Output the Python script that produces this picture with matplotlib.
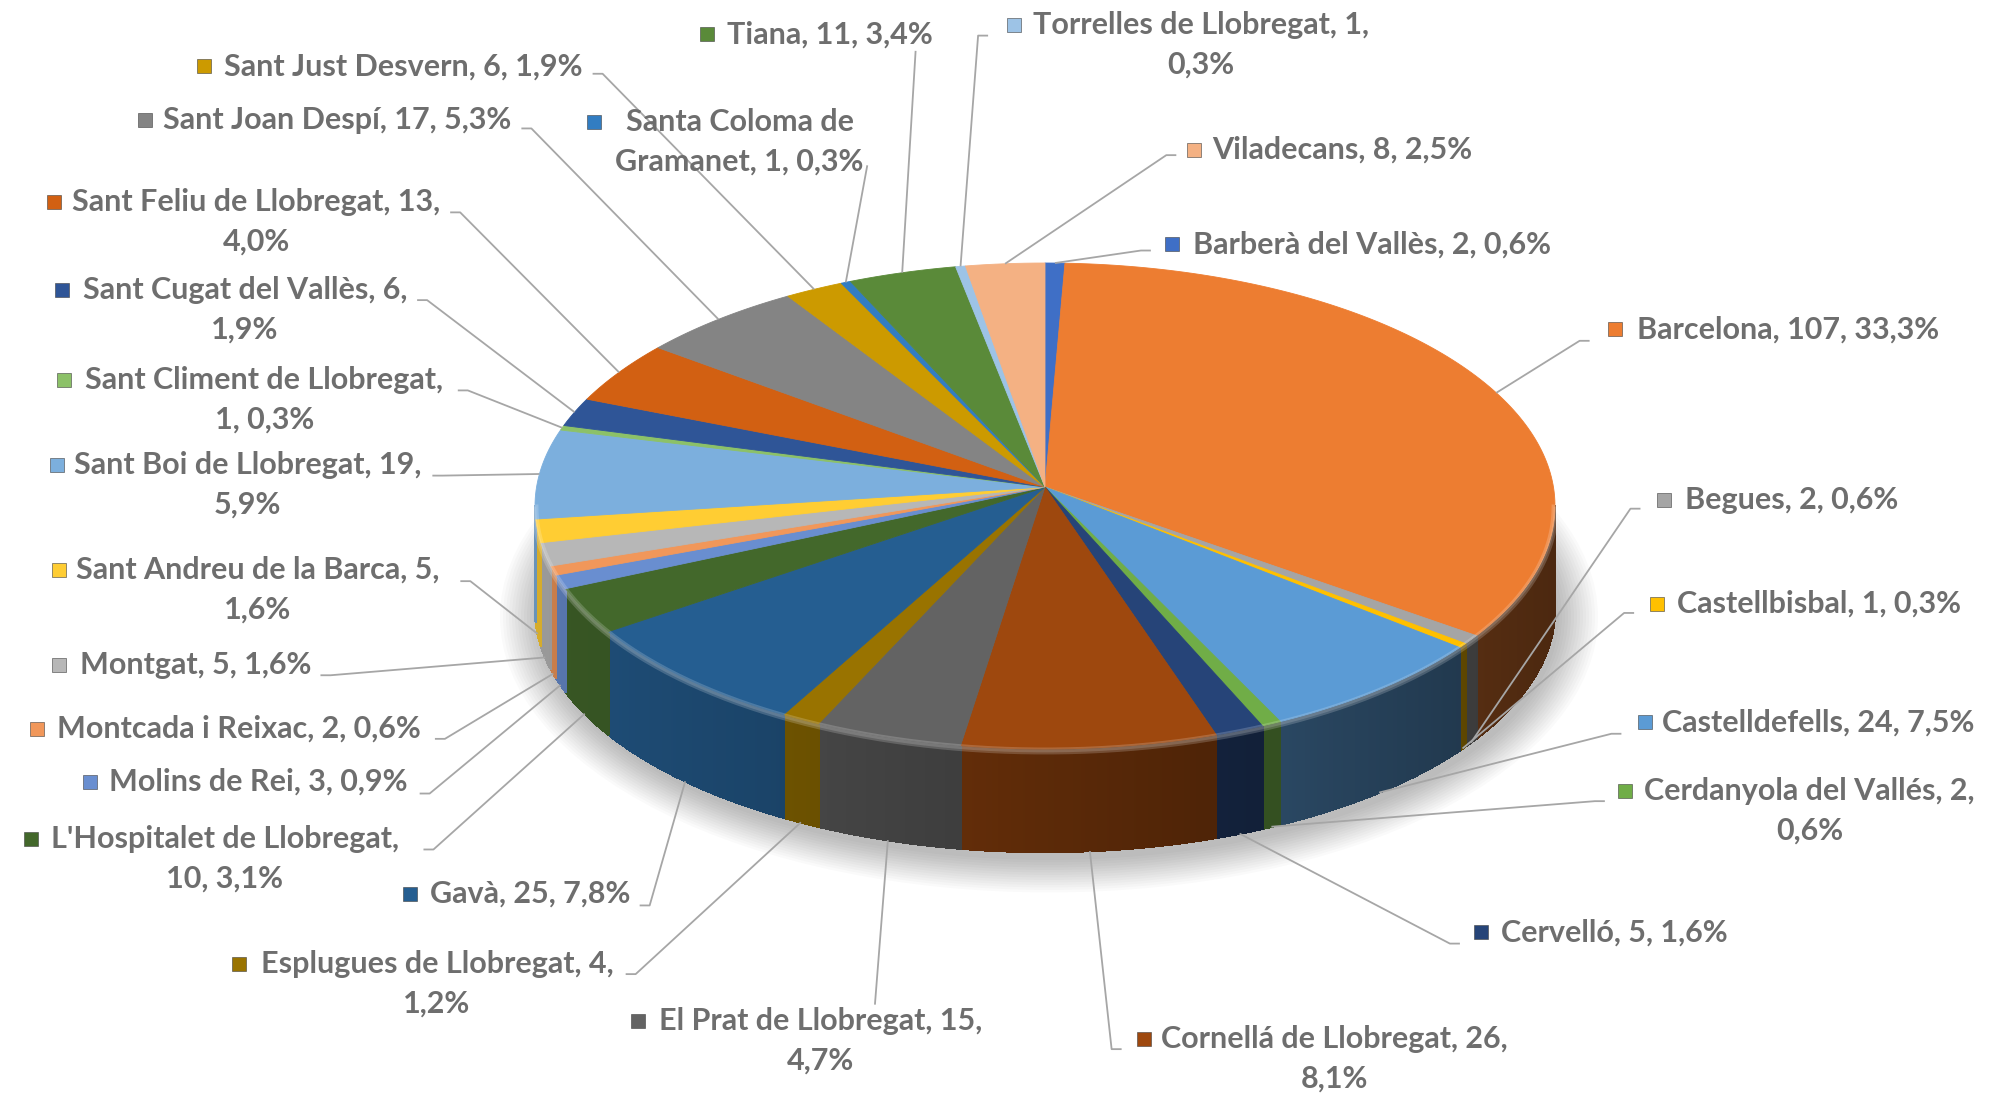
import numpy as np
import matplotlib.pyplot as plt
from matplotlib.patches import Polygon, Ellipse
from matplotlib.collections import PolyCollection
from matplotlib.colors import to_rgb

# ---------------------------------------------------------------------
# Data (clockwise from 12 o'clock)
# ---------------------------------------------------------------------
names = ['Barberà del Vallès', 'Barcelona', 'Begues', 'Castellbisbal',
         'Castelldefells', 'Cerdanyola del Vallés', 'Cervelló',
         'Cornellá de Llobregat', 'El Prat de Llobregat',
         'Esplugues de Llobregat', 'Gavà', "L'Hospitalet de Llobregat",
         'Molins de Rei', 'Montcada i Reixac', 'Montgat',
         'Sant Andreu de la Barca', 'Sant Boi de Llobregat',
         'Sant Climent de Llobregat', 'Sant Cugat del Vallès',
         'Sant Feliu de Llobregat', 'Sant Joan Despí', 'Sant Just Desvern',
         'Santa Coloma de Gramanet', 'Tiana', 'Torrelles de Llobregat',
         'Viladecans']
values = [2, 107, 2, 1, 24, 2, 5, 26, 15, 4, 25, 10, 3, 2, 5, 5, 19, 1, 6,
          13, 17, 6, 1, 11, 1, 8]
colors = ['#3F6FC6', '#ED7D31', '#A5A5A5', '#FFC000', '#5B9BD5', '#70AD47',
          '#264478', '#9E480E', '#636363', '#997300', '#255E91', '#43682B',
          '#698ED0', '#F1975A', '#B7B7B7', '#FFCD33', '#7CAFDD', '#8CC168',
          '#2F5597', '#D26012', '#848484', '#CC9A00', '#327DC2', '#5A8A39',
          '#9DC3E6', '#F4B183']
# where each label wraps: '' none, 'pct' before percent, 'val' before value,
# 'name' inside the name
wrap = ['', '', '', '', '', 'pct', '', 'pct', 'pct', 'pct', '', 'val', '',
        '', '', 'pct', 'pct', 'val', 'pct', 'pct', '', '', 'name', '', 'pct',
        '']

# ---------------------------------------------------------------------
# Label layout (in 1568-wide reference coords, scaled below)
# ---------------------------------------------------------------------
S = 1994 / 1568.
sq_x = [917, 1265, 1304, 1298, 1289, 1273, 1160, 895, 497, 183, 318, 20, 66,
        24, 42, 42, 40, 46, 44, 38, 109, 156, 462, 551, 793, 934]
txt_x = [938, 1287, 1325, 1319, 1307, 1293, 1180, 913, 518, 205, 338, 40, 86,
         45, 63, 60, 58, 67, 65, 57, 128, 176, 484, 572, 812, 953]
row_y = [192, 259, 393, 475, 568, 622, 733, 817, 803, 758, 703, 660, 615,
         573, 523, 448, 366, 299, 228, 159, 94, 52, 96, 27, 20, 118]
anchor = [(905, 197), (1250, 268), (1290, 400), (1285, 482), (1275, 577),
          (1262, 630), (1148, 742), (882, 825), (688, 790), (492, 766),
          (503, 712), (333, 668), (330, 624), (342, 581), (252, 531),
          (362, 457), (340, 374), (360, 307), (328, 236), (354, 167),
          (410, 101), (466, 58), (682, 130), (720, 40), (777, 28), (925, 122)]
hook = [-1, -1, -1, -1, -1, -1, -1, -1, 0, 1, 1, 1, 1, 1, 1, 1, 1, 1, 1, 1,
        1, 1, 0, 0, -1, -1]

# pie geometry in output pixels
cx, cy, rx, ry = 1045., 506., 510., 243.
apex_y = 487.
depth = 103.

fig = plt.figure(figsize=(19.94, 10.94), dpi=100)
ax = fig.add_axes([0, 0, 1, 1])
ax.set_xlim(0, 1994)
ax.set_ylim(1094, 0)
ax.axis('off')


def rim(t, dy=0.):
    return cx + rx * np.cos(t), cy - ry * np.sin(t) + dy


total = float(sum(values))
fracs = np.array(values) / total
edges = np.concatenate([[0], np.cumsum(fracs)])
t_start = np.radians(90 - 360 * edges[:-1])
t_end = np.radians(90 - 360 * edges[1:])

# soft shadow under the pie
for k in range(14):
    ax.add_patch(Ellipse((cx + 4, cy + depth + 8), 2 * rx + 6 * k,
                         2 * ry + 5 * k, color='#000000', alpha=0.018,
                         lw=0, zorder=0))

# side walls (front half only, t in [-pi, 0])
polys, fcols = [], []
for i in range(len(values)):
    a, b = max(t_end[i], -np.pi), min(t_start[i], 0.)
    if b <= a:
        continue
    ts = np.linspace(b, a, max(3, int((b - a) / 0.004)))
    base = np.array(to_rgb(colors[i]))
    for t0, t1 in zip(ts[:-1], ts[1:]):
        x0, y0 = rim(t0)
        x1, y1 = rim(t1)
        polys.append([(x0, y0), (x1, y1), (x1, y1 + depth), (x0, y0 + depth)])
        f = 0.58 - 0.26 * np.cos(0.5 * (t0 + t1))
        fcols.append(np.clip(base * f, 0, 1))
ax.add_collection(PolyCollection(polys, facecolors=fcols, edgecolors=fcols,
                                 lw=1.0, antialiaseds=False, zorder=2))

# top surface
for i in range(len(values)):
    ts = np.linspace(t_start[i], t_end[i], max(3, int(fracs[i] * 400)))
    xs, ys = rim(ts)
    pts = [(cx, apex_y)] + list(zip(xs, ys))
    ax.add_patch(Polygon(pts, closed=True, fc=colors[i], ec=colors[i],
                         lw=0.6, zorder=3))

# soft bevel along the front rim
tb = np.linspace(0, -np.pi, 300)
bx, by = rim(tb)
ax.plot(bx, by + 2, color='white', alpha=0.18, lw=5, zorder=3.5)
ax.plot(bx, by + 2, color='white', alpha=0.15, lw=2, zorder=3.5)

# labels and leader lines
fs = 22
txt_col = '#6E6E6E'
for i, name in enumerate(names):
    pct = ('%.1f' % (100 * fracs[i])).replace('.', ',') + '%'
    if wrap[i] == 'pct':
        label = '%s, %d,\n%s' % (name, values[i], pct)
    elif wrap[i] == 'val':
        label = '%s,\n%d, %s' % (name, values[i], pct)
    elif wrap[i] == 'name':
        head, tail = name.rsplit(' ', 1)
        label = '%s\n%s, %d, %s' % (head, tail, values[i], pct)
    else:
        label = '%s, %d, %s' % (name, values[i], pct)

    y1 = row_y[i] * S
    ax.text(txt_x[i] * S, y1 - 14, label, ha='left', va='top',
            multialignment='center', fontsize=fs, fontweight='bold',
            family='Lato', color=txt_col, linespacing=1.5, zorder=5)
    ax.scatter([sq_x[i] * S + 6], [y1], marker='s', s=110, c=colors[i],
               edgecolors='#404040', linewidths=0.4, zorder=5)

    mid = 0.5 * (t_start[i] + t_end[i])
    px, py = rim(mid)
    if np.sin(mid) < 0:
        py += depth
    ax_, ay_ = anchor[i][0] * S, anchor[i][1] * S
    xs = [ax_, ax_ + 10 * hook[i] if hook[i] else ax_, px]
    ys = [ay_, ay_, py]
    ax.plot(xs, ys, color='#A6A6A6', lw=1.3, zorder=4,
            solid_capstyle='butt')

plt.savefig('out.png', dpi=100, facecolor='white')
plt.close()
